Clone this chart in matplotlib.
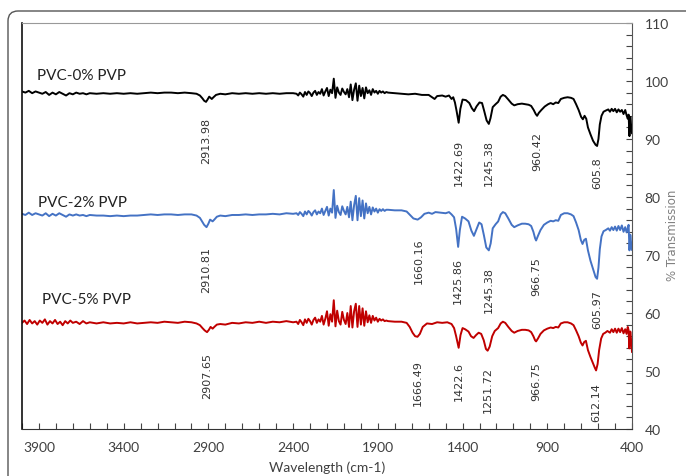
import matplotlib
matplotlib.use("Agg")
import matplotlib.pyplot as plt
from matplotlib.patches import FancyBboxPatch
from matplotlib.ticker import FixedLocator, MultipleLocator

# ---------------- data ----------------
noise_wn = list(range(2380, 1840, -10))

black_main_left = [(4000,98.2),(3980,98.0),(3960,98.3),(3940,97.9),(3920,98.2),(3900,98.0),(3880,97.8),(3860,98.1),
    (3840,97.6),(3820,98.0),(3800,97.7),(3780,98.1),(3760,97.8),(3740,97.5),(3720,97.9),(3700,97.7),(3680,98.0),
    (3660,97.8),(3640,97.9),(3620,97.7),(3600,97.9),(3560,97.8),(3520,97.9),(3480,97.8),(3440,97.9),(3400,97.8),
    (3360,97.9),(3320,97.8),(3280,97.9),(3240,98.0),(3200,97.9),(3160,98.0),(3120,98.0),(3080,97.9),(3040,98.0),
    (3000,97.9),(2970,97.8),(2950,97.5),(2935,97.0),(2925,96.6),(2914,96.4),(2905,96.8),(2895,97.3),(2880,96.9),
    (2870,97.2),(2855,97.6),(2830,97.8),(2800,97.7),(2760,97.9),(2720,97.8),(2680,97.9),(2640,97.8),(2600,97.9),
    (2560,97.8),(2520,97.9),(2480,97.8),(2440,97.9),(2400,97.9)]
black_noise = [97.8,97.5,98.0,97.7,97.3,98.1,97.6,98.2,97.9,97.4,
    98.0,98.3,97.6,98.1,97.8,98.6,97.5,98.2,98.8,97.4,
    98.5,97.9,100.4,97.1,98.9,98.0,97.6,98.7,98.1,97.7,
    98.6,97.2,99.4,96.7,98.5,99.6,96.6,99.2,97.4,98.8,
    97.0,98.9,97.9,98.4,97.6,98.6,98.0,98.3,97.8,98.3,
    98.0,98.2,97.9,98.1]
black_main_right = [(1840,98.0),(1800,97.9),(1760,97.8),(1720,97.7),(1680,97.8),(1640,97.6),(1600,97.6),(1580,97.2),
    (1565,96.9),(1550,97.4),(1520,97.5),(1500,97.3),(1480,97.5),(1465,96.9),(1455,97.2),(1445,96.3),(1435,94.8),
    (1423,92.8),(1413,95.2),(1400,96.8),(1380,96.7),(1360,96.2),(1345,95.3),(1332,94.8),(1318,95.6),(1300,96.3),
    (1285,96.2),(1272,94.8),(1258,93.2),(1245,92.6),(1235,93.6),(1222,95.5),(1205,96.0),(1190,96.4),(1175,97.3),
    (1162,97.6),(1148,97.4),(1130,96.8),(1110,96.1),(1095,95.8),(1075,96.0),(1050,96.1),(1030,96.0),(1010,95.9),
    (995,95.7),(980,95.0),(968,94.3),(960,94.0),(950,94.5),(935,95.0),(915,95.6),(895,96.0),(880,96.2),(865,96.0),
    (850,96.3),(835,96.2),(820,96.9),(800,97.1),(780,97.2),(760,97.1),(745,96.9),(730,96.0),(715,95.0),(700,93.8),
    (690,93.4),(680,94.0),(670,93.5),(660,92.0),(645,90.8),(630,89.7),(615,89.0),(606,88.8),(598,90.0),(590,92.5),
    (580,94.0),(568,94.7),(555,94.9),(540,95.1),(530,94.7),(520,95.2),(510,94.8),(500,95.2),(490,94.6),(480,95.1),
    (470,94.7),(460,95.0),(450,94.3),(440,95.0),(432,94.1),(425,93.5),(420,94.2),(415,90.5),(410,93.8),(405,92.3),
    (400,91.0)]

blue_main_left = [(4000,77.1),(3980,76.9),(3960,77.3),(3940,76.9),(3920,77.2),(3900,77.0),(3880,76.8),(3860,77.2),
    (3840,76.7),(3820,77.1),(3800,76.8),(3780,77.2),(3760,76.9),(3740,76.6),(3720,77.0),(3700,76.8),(3680,77.0),
    (3660,76.8),(3640,76.9),(3620,76.7),(3600,76.9),(3560,76.8),(3520,76.8),(3480,76.7),(3440,76.8),(3400,76.7),
    (3360,76.8),(3320,76.8),(3280,76.9),(3240,77.0),(3200,76.9),(3160,77.0),(3120,77.0),(3080,76.9),(3040,77.0),
    (3000,77.0),(2970,76.8),(2950,76.4),(2935,75.7),(2925,75.2),(2911,74.8),(2900,75.4),(2890,76.1),(2875,75.8),
    (2865,76.1),(2850,76.6),(2830,76.8),(2800,76.7),(2760,76.9),(2720,76.9),(2680,77.0),(2640,76.9),(2600,77.0),
    (2560,77.0),(2520,77.1),(2480,77.0),(2440,77.2),(2400,77.1)]
blue_noise = [77.2,76.9,77.4,77.1,76.7,77.5,77.0,77.6,77.3,76.8,
    77.4,77.7,77.0,77.5,77.2,78.0,76.9,77.6,78.3,76.8,
    78.0,77.3,81.2,76.4,78.5,77.4,76.9,78.4,77.6,77.0,
    78.3,76.5,79.2,76.0,78.6,80.2,76.0,79.8,76.7,79.4,
    76.3,78.9,77.2,78.3,77.0,78.2,77.5,78.0,77.3,77.9,
    77.6,77.9,77.6,77.8]
blue_main_right = [(1840,77.8),(1800,77.7),(1760,77.7),(1730,77.5),(1710,76.9),(1690,76.3),(1665,76.1),(1645,76.5),
    (1625,77.1),(1600,77.3),(1580,77.1),(1560,77.4),(1530,77.3),(1500,77.2),(1480,77.4),(1465,77.0),(1450,76.5),
    (1438,74.5),(1426,71.4),(1416,74.3),(1403,76.6),(1385,76.3),(1365,75.8),(1348,74.2),(1333,73.3),(1318,74.4),
    (1302,75.6),(1288,75.3),(1274,73.4),(1260,71.3),(1245,70.8),(1234,72.0),(1222,74.6),(1205,75.3),(1190,75.8),
    (1175,77.0),(1162,77.4),(1148,77.2),(1130,76.3),(1110,75.2),(1095,74.8),(1075,75.1),(1050,75.4),(1030,75.4),
    (1010,75.3),(995,75.0),(982,74.0),(972,72.9),(966,72.5),(955,73.3),(940,74.3),(920,75.2),(900,75.6),(880,75.9),
    (865,75.8),(850,76.0),(835,75.9),(820,76.9),(800,77.2),(780,77.2),(760,77.0),(745,76.7),(730,75.6),(715,74.3),
    (702,72.6),(692,71.9),(682,72.6),(672,72.8),(660,70.8),(645,69.0),(630,67.6),(615,66.2),(606,65.9),(598,67.8),
    (590,71.0),(580,73.2),(568,74.1),(555,74.3),(540,74.6),(530,74.2),(520,74.8),(510,74.3),(500,74.9),(490,74.2),
    (480,75.0),(470,74.3),(460,75.1),(450,74.0),(440,74.8),(432,73.9),(425,74.6),(420,75.2),(415,70.8),(410,73.5),
    (405,72.0),(400,70.9)]

red_main_left = [(4000,58.3),(3985,58.7),(3970,58.1),(3955,58.8),(3940,58.2),(3925,58.6),(3910,58.0),(3895,58.7),
    (3880,58.3),(3865,58.9),(3850,58.0),(3835,58.6),(3820,58.2),(3805,58.8),(3790,58.1),(3775,58.5),(3760,57.9),
    (3745,58.6),(3730,58.2),(3715,58.7),(3700,58.3),(3680,58.5),(3660,58.1),(3640,58.6),(3620,58.2),(3600,58.4),
    (3560,58.2),(3520,58.4),(3480,58.2),(3440,58.3),(3400,58.2),(3360,58.4),(3320,58.2),(3280,58.3),(3240,58.4),
    (3200,58.3),(3160,58.5),(3120,58.4),(3080,58.3),(3040,58.5),(3000,58.4),(2970,58.2),(2950,57.9),(2935,57.4),
    (2922,57.0),(2908,56.7),(2897,57.1),(2887,57.6),(2875,57.3),(2865,57.6),(2850,58.0),(2830,58.1),(2800,58.0),
    (2760,58.3),(2720,58.2),(2680,58.4),(2640,58.3),(2600,58.5),(2560,58.3),(2520,58.5),(2480,58.4),(2440,58.6),
    (2400,58.4)]
red_noise = [58.5,58.1,58.8,58.4,57.9,58.9,58.3,59.0,58.6,58.0,
    58.8,59.2,58.3,58.9,58.5,59.5,58.0,59.0,60.3,57.8,
    59.8,58.5,62.2,57.7,60.4,58.6,58.0,60.2,58.8,58.1,
    60.0,57.6,61.2,57.5,60.3,61.6,57.6,61.2,58.0,60.8,
    57.8,60.3,58.4,59.6,58.3,59.5,58.7,59.2,58.5,59.0,
    58.7,58.9,58.6,58.7]
red_main_right = [(1840,58.6),(1800,58.5),(1760,58.5),(1730,58.3),(1712,57.6),(1695,56.6),(1680,56.0),(1666,55.9),
    (1652,56.4),(1635,57.6),(1610,58.2),(1580,58.1),(1550,58.4),(1520,58.3),(1490,58.4),(1465,58.1),(1450,57.4),
    (1438,56.0),(1423,54.0),(1412,56.2),(1400,57.4),(1385,57.2),(1365,56.8),(1350,56.0),(1335,55.7),(1320,56.2),
    (1305,56.6),(1290,56.4),(1275,55.3),(1262,53.8),(1252,53.5),(1240,54.2),(1225,56.0),(1210,56.9),(1190,57.4),
    (1175,58.2),(1162,58.5),(1148,58.3),(1130,57.6),(1110,56.9),(1095,56.6),(1075,56.9),(1050,57.1),(1030,57.1),
    (1010,57.0),(995,56.7),(982,56.0),(972,55.3),(966,55.1),(955,55.6),(940,56.4),(920,57.0),(900,57.3),(880,57.5),
    (865,57.4),(850,57.6),(835,57.5),(820,58.2),(800,58.4),(780,58.4),(760,58.2),(745,57.9),(730,57.0),(715,56.0),
    (702,54.9),(692,54.4),(682,55.0),(672,55.2),(660,53.6),(645,52.4),(630,51.3),(620,50.6),(612,50.1),(603,51.2),
    (594,53.6),(582,55.6),(570,56.4),(558,56.6),(545,56.9),(530,56.6),(520,57.2),(510,56.7),(500,57.3),(490,56.6),
    (480,57.3),(470,56.7),(460,57.4),(450,56.5),(440,57.2),(432,56.4),(425,57.6),(420,57.0),(416,53.9),(410,56.8),
    (405,55.3),(400,53.3)]

series_names = ["PVC-0% PVP", "PVC-2% PVP", "PVC-5% PVP"]
series_colors = ["#000000", "#4472C4", "#C00000"]
name_pos = [(3911, 101.0), (3905, 79.1), (3880, 62.4)]

black_peaks = [(2913.98, "2913.98", 93.8), (1422.69, "1422.69", 90.0), (1245.38, "1245.38", 90.0),
               (960.42, "960.42", 91.4), (605.8, "605.8", 87.1)]
blue_peaks = [(2910.81, "2910.81", 71.6), (1660.16, "1660.16", 73.1), (1425.86, "1425.86", 69.7),
              (1245.38, "1245.38", 68.1), (966.75, "966.75", 69.8), (605.97, "605.97", 64.1)]
red_peaks = [(2907.65, "2907.65", 53.3), (1666.49, "1666.49", 52.1), (1422.6, "1422.6", 51.7),
             (1251.72, "1251.72", 50.9), (966.75, "966.75", 51.7), (612.14, "612.14", 48.1)]

x_ticks = [3900, 3400, 2900, 2400, 1900, 1400, 900, 400]
y_ticks = [40, 50, 60, 70, 80, 90, 100, 110]


def assemble(left, noise, right):
    xs = [p[0] for p in left] + noise_wn + [p[0] for p in right]
    ys = [p[1] for p in left] + noise + [p[1] for p in right]
    return xs, ys


# ---------------- figure ----------------
lato = ["Lato", "DejaVu Sans"]
fig = plt.figure(figsize=(6.86, 4.77), dpi=100)
ax = fig.add_axes([22/686, 47/477, 610/686, 406/477])

all_series = [assemble(black_main_left, black_noise, black_main_right),
              assemble(blue_main_left, blue_noise, blue_main_right),
              assemble(red_main_left, red_noise, red_main_right)]
for (xs, ys), c in zip(all_series, series_colors):
    ax.plot(xs, ys, color=c, lw=1.4, solid_joinstyle="round")

for name, (nx, ny), c in zip(series_names, name_pos, series_colors):
    ax.text(nx, ny, name, fontsize=11, family=lato, color="#222222", ha="left", va="center")

for peaks in (black_peaks, blue_peaks, red_peaks):
    for wx, lab, ty in peaks:
        ax.text(wx, ty, lab, rotation=90, fontsize=8, color="#333333", ha="center", va="top",
                family="DejaVu Sans")

ax.set_xlim(4000, 400)
ax.set_ylim(40, 110)
ax.xaxis.set_major_locator(FixedLocator(x_ticks))
ax.xaxis.set_minor_locator(MultipleLocator(100))
ax.yaxis.set_major_locator(FixedLocator(y_ticks))
ax.yaxis.set_minor_locator(MultipleLocator(2))
ax.yaxis.tick_right()
ax.yaxis.set_label_position("right")
ax.tick_params(axis="x", which="both", direction="in", length=4, width=0.8, color="#444444",
               labelsize=10, labelcolor="#404040", pad=9)
ax.tick_params(axis="y", which="both", direction="in", length=4, width=0.8, color="#444444",
               labelsize=10, labelcolor="#404040", pad=9)
for lab in ax.get_xticklabels() + ax.get_yticklabels():
    lab.set_family(lato)

ax.set_xlabel("Wavelength (cm-1)", fontsize=10, color="#404040", family=lato, labelpad=5)
ax.set_ylabel("% Transmission", fontsize=8.5, color="#808080", family="DejaVu Sans",
              rotation=90, va="center")
ax.yaxis.set_label_coords((672 - 22) / 610, 0.48)

ax.spines["left"].set_color("#111111")
ax.spines["left"].set_linewidth(1.2)
ax.spines["bottom"].set_color("#333333")
ax.spines["right"].set_color("#555555")
ax.spines["top"].set_color("#999999")
ax.spines["top"].set_linewidth(0.8)

frame = FancyBboxPatch((0.08, -0.5), 7.5, 4.77 - 0.12 + 0.5,
                       boxstyle="round,pad=0,rounding_size=0.1",
                       transform=fig.dpi_scale_trans, fill=False, edgecolor="#555555", lw=1.0)
fig.add_artist(frame)

fig.savefig("out.png", dpi=100)
